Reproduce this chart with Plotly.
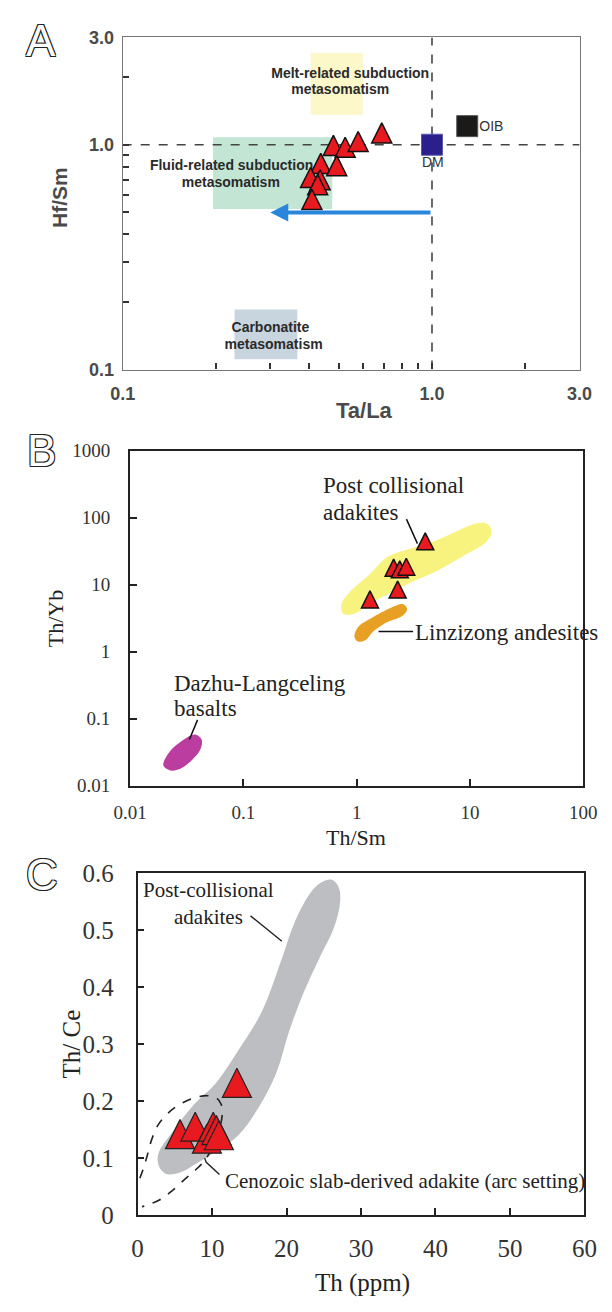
import math
import plotly.graph_objects as go

W, H = 612, 1312

# ---------------- Panel A : Hf/Sm vs Ta/La ----------------
a_ta_la = [0.480, 0.524, 0.577, 0.688, 0.437, 0.492, 0.405, 0.435, 0.427, 0.409]
a_hf_sm = [1.10, 1.08, 1.145, 1.25, 0.915, 0.894, 0.792, 0.774, 0.736, 0.633]
dm_ta_la = [1.0]
dm_hf_sm = [1.0]
oib_ta_la = [1.30]
oib_hf_sm = [1.21]
melt_box_x = [0.405, 0.598]
melt_box_y = [1.358, 2.56]
fluid_box_x = [0.196, 0.476]
fluid_box_y = [0.518, 1.081]
carb_box_x = [0.230, 0.367]
carb_box_y = [0.111, 0.185]
ref_ta_la = 1.0
ref_hf_sm = 1.0
arrow_from = [1.0, 0.5]
arrow_to = [0.30, 0.5]
a_tickvals = [0.1, 0.2, 0.3, 0.4, 0.5, 0.6, 0.7, 0.8, 0.9, 1.0, 2.0, 3.0]
a_ticktext = ["0.1", "", "", "", "", "", "", "", "", "1.0", "", "3.0"]

# ---------------- Panel B : Th/Yb vs Th/Sm ----------------
b_th_sm = [4.03, 2.12, 2.40, 2.74, 2.30, 1.31]
b_th_yb = [59.7, 24.1, 22.8, 24.9, 11.4, 8.1]
post_adakite_x = [0.762, 0.735, 0.887, 1.29, 1.88, 2.96, 4.66, 7.31, 11.5, 14.4, 15.5, 13.9, 8.5, 5.0, 2.96, 1.88, 1.29, 0.955]
post_adakite_y = [3.68, 5.15, 8.07, 14.1, 26.2, 34.6, 43.4, 60.7, 83, 80.4, 60.7, 43.4, 26.2, 15.8, 10.7, 7.2, 5.15, 3.68]
linzizong_x = [0.955, 1.03, 1.39, 2.03, 2.55, 2.79, 2.55, 1.75, 1.39, 1.2, 1.03]
linzizong_y = [1.68, 2.35, 3.29, 4.6, 5.15, 4.35, 3.47, 2.63, 1.99, 1.50, 1.42]
dazhu_x = [0.0197, 0.0221, 0.0299, 0.0374, 0.0428, 0.0418, 0.0347, 0.0277, 0.0229]
dazhu_y = [0.020, 0.0314, 0.049, 0.058, 0.049, 0.035, 0.0237, 0.0179, 0.0169]
b_leader_post_x = [2.75, 3.44]
b_leader_post_y = [95.7, 41.2]
b_leader_lin_x = [1.56, 3.15]
b_leader_lin_y = [2.0, 2.0]
b_leader_dazhu_x = [0.0394, 0.0334]
b_leader_dazhu_y = [0.0964, 0.0491]
b_xtickvals = [0.01, 0.1, 1, 10, 100]
b_xticktext = ["0.01", "0.1", "1", "10", "100"]
b_ytickvals = [0.01, 0.1, 1, 10, 100, 1000]
b_yticktext = ["0.01", "0.1", "1", "10", "100", "1000"]

# ---------------- Panel C : Th/Ce vs Th ----------------
c_th = [5.70, 7.74, 9.31, 10.16, 10.58, 10.92, 13.34]
c_th_ce = [0.167, 0.180, 0.159, 0.180, 0.174, 0.165, 0.257]
c_post_x = [2.7, 3.2, 4.0, 5.9, 8.0, 10.6, 13.5, 16.1, 18.6, 20.3, 22.3, 24.4, 26.4, 27.2, 27.0, 26.1, 24.9, 23.5, 21.2, 19.2, 16.7, 13.5, 10.5, 7.6, 5.0, 2.9]
c_post_y = [0.094, 0.078, 0.071, 0.075, 0.091, 0.111, 0.139, 0.185, 0.248, 0.32, 0.39, 0.45, 0.505, 0.55, 0.575, 0.588, 0.585, 0.57, 0.517, 0.443, 0.357, 0.288, 0.231, 0.194, 0.151, 0.111]
c_ceno_x = [0.30, 0.80, 1.32, 1.87, 2.72, 3.99, 5.70, 7.61, 9.31, 10.58, 11.22, 11.35, 11.0, 10.16, 9.09, 7.82, 6.33, 4.63, 2.93, 1.23, 0.6]
c_ceno_y = [0.064, 0.082, 0.105, 0.131, 0.157, 0.177, 0.194, 0.205, 0.209, 0.205, 0.194, 0.174, 0.151, 0.122, 0.0965, 0.079, 0.062, 0.042, 0.026, 0.0166, 0.014]
c_leader_post_x = [15.17, 19.38]
c_leader_post_y = [0.5246, 0.480]
c_leader_ceno_x = [9.01, 9.22, 11.0]
c_leader_ceno_y = [0.0994, 0.092, 0.0708]
c_xtickvals = [0, 10, 20, 30, 40, 50, 60]
c_ytickvals = [0, 0.1, 0.2, 0.3, 0.4, 0.5, 0.6]
c_yticktext = ["0", "0.1", "0.2", "0.3", "0.4", "0.5", "0.6"]

SANS = "Liberation Sans, Arial, sans-serif"
SERIF = "Liberation Serif, Times New Roman, serif"
RED = "#e8191f"


def px(x):
    return x / W


def py(y):
    return 1 - y / H


def rect(xs, ys):
    return ([xs[0], xs[1], xs[1], xs[0], xs[0]],
            [ys[0], ys[0], ys[1], ys[1], ys[0]])


fig = go.Figure()

# ---- Panel A traces ----
for bx, by, col in [(melt_box_x, melt_box_y, "#fcf8c9"),
                    (fluid_box_x, fluid_box_y, "#c2e5d4"),
                    (carb_box_x, carb_box_y, "#c8d5df")]:
    rx, ry = rect(bx, by)
    fig.add_trace(go.Scatter(x=rx, y=ry, mode="lines", fill="toself",
                             fillcolor=col, line=dict(width=0),
                             hoverinfo="skip", xaxis="x", yaxis="y"))

fig.add_trace(go.Scatter(x=[0.1, 3.0], y=[ref_hf_sm, ref_hf_sm], mode="lines",
                         line=dict(color="#444", width=1.6, dash="dash"),
                         xaxis="x", yaxis="y"))
fig.add_trace(go.Scatter(x=[ref_ta_la, ref_ta_la], y=[0.1, 3.0], mode="lines",
                         line=dict(color="#444", width=1.6, dash="dash"),
                         xaxis="x", yaxis="y"))

a_labels = [
    ("Melt-related subduction", 0.544, 2.058),
    ("metasomatism", 0.505, 1.740),
    ("Fluid-related subduction", 0.225, 0.80),
    ("metasomatism", 0.2237, 0.673),
    ("Carbonatite", 0.3004, 0.1524),
    ("metasomatism", 0.3076, 0.1285),
]
fig.add_trace(go.Scatter(
    x=[t[1] for t in a_labels], y=[t[2] for t in a_labels],
    text=[t[0] for t in a_labels], mode="text", textposition="middle center",
    textfont=dict(family=SANS, size=14, color="#2a2a2a", weight="bold"),
    xaxis="x", yaxis="y", hoverinfo="skip"))

fig.add_trace(go.Scatter(x=dm_ta_la, y=dm_hf_sm, mode="markers",
                         marker=dict(symbol="square", size=21, color="#2b1f8e",
                                     line=dict(color="#5a5aa8", width=1)),
                         xaxis="x", yaxis="y"))
fig.add_trace(go.Scatter(x=oib_ta_la, y=oib_hf_sm, mode="markers",
                         marker=dict(symbol="square", size=21, color="#1c1a18",
                                     line=dict(color="#555", width=1)),
                         xaxis="x", yaxis="y"))
fig.add_trace(go.Scatter(x=[1.006, 1.422], y=[0.822, 1.192], text=["DM", "OIB"],
                         mode="text", textposition=["middle center", "middle right"],
                         textfont=dict(family=SANS, size=14, color="#333"),
                         xaxis="x", yaxis="y", hoverinfo="skip"))

fig.add_trace(go.Scatter(x=a_ta_la, y=a_hf_sm, mode="markers",
                         marker=dict(symbol="arrow-up", size=20, color=RED,
                                     line=dict(color="#111", width=1.5)),
                         xaxis="x", yaxis="y"))

# ---- Panel B traces ----
for bx, by, col in [(post_adakite_x, post_adakite_y, "#f7f37e"),
                    (linzizong_x, linzizong_y, "#e8a024"),
                    (dazhu_x, dazhu_y, "#bb3d9f")]:
    fig.add_trace(go.Scatter(x=bx + [bx[0]], y=by + [by[0]], mode="lines",
                             fill="toself", fillcolor=col,
                             line=dict(width=0, shape="spline", smoothing=1.0),
                             hoverinfo="skip", xaxis="x2", yaxis="y2"))
for lx, ly in [(b_leader_post_x, b_leader_post_y),
               (b_leader_lin_x, b_leader_lin_y),
               (b_leader_dazhu_x, b_leader_dazhu_y)]:
    fig.add_trace(go.Scatter(x=lx, y=ly, mode="lines",
                             line=dict(color="#111", width=1.5),
                             xaxis="x2", yaxis="y2"))
fig.add_trace(go.Scatter(x=b_th_sm, y=b_th_yb, mode="markers",
                         marker=dict(symbol="arrow-up", size=17, color=RED,
                                     line=dict(color="#111", width=1.5)),
                         xaxis="x2", yaxis="y2"))

# ---- Panel C traces ----
fig.add_trace(go.Scatter(x=c_post_x + [c_post_x[0]], y=c_post_y + [c_post_y[0]],
                         mode="lines", fill="toself", fillcolor="#bdbec2",
                         line=dict(width=0, shape="spline", smoothing=1.0),
                         hoverinfo="skip", xaxis="x3", yaxis="y3"))
fig.add_trace(go.Scatter(x=c_ceno_x, y=c_ceno_y, mode="lines",
                         line=dict(color="#222", width=1.6, dash="dash",
                                   shape="spline"),
                         xaxis="x3", yaxis="y3"))
for lx, ly in [(c_leader_post_x, c_leader_post_y),
               (c_leader_ceno_x, c_leader_ceno_y)]:
    fig.add_trace(go.Scatter(x=lx, y=ly, mode="lines",
                             line=dict(color="#222", width=1.4),
                             xaxis="x3", yaxis="y3"))
fig.add_trace(go.Scatter(x=c_th, y=c_th_ce, mode="markers",
                         marker=dict(symbol="arrow-up", size=29, color=RED,
                                     line=dict(color="#222", width=1.2)),
                         xaxis="x3", yaxis="y3"))

# ---- Axes ----
A_AX = dict(showgrid=False, zeroline=False, showline=True, mirror=True,
            linecolor="#777", linewidth=1.2, ticks="inside", ticklen=6,
            tickwidth=1.6, tickcolor="#333",
            tickfont=dict(family=SANS, size=18, color="#4a4a4a", weight="bold"))
fig.update_layout(
    xaxis=dict(A_AX, type="log", range=[-1, math.log10(3)],
               domain=[px(111.3), px(592.6)], anchor="y",
               tickvals=a_tickvals, ticktext=a_ticktext, ticklabelstandoff=8),
    yaxis=dict(A_AX, type="log", range=[-1, math.log10(3)],
               domain=[py(364), py(25)], anchor="x",
               tickvals=a_tickvals, ticktext=a_ticktext, ticklabelstandoff=4),
)
B_AX = dict(showgrid=False, zeroline=False, showline=True, mirror=True,
            linecolor="#222", linewidth=1.8, ticks="inside", ticklen=7,
            tickwidth=1.6, tickcolor="#222",
            tickfont=dict(family=SERIF, size=19, color="#333"))
fig.update_layout(
    xaxis2=dict(B_AX, type="log", range=[-2, 2],
                domain=[px(119.1), px(596.5)], anchor="y2",
                tickvals=b_xtickvals, ticktext=b_xticktext, ticklabelstandoff=9),
    yaxis2=dict(B_AX, type="log", range=[-2, 3],
                domain=[py(789), py(447)], anchor="x2",
                tickvals=b_ytickvals, ticktext=b_yticktext, ticklabelstandoff=14),
)
C_AX = dict(showgrid=False, zeroline=False, showline=True, mirror=True,
            linecolor="#222", linewidth=1.8, ticks="inside", ticklen=7,
            tickwidth=1.6, tickcolor="#222",
            tickfont=dict(family=SERIF, size=25, color="#333"))
fig.update_layout(
    xaxis3=dict(C_AX, range=[0, 60], domain=[px(127), px(597.7)], anchor="y3",
                tickvals=c_xtickvals, ticklabelstandoff=10),
    yaxis3=dict(C_AX, range=[0, 0.6], domain=[py(1227), py(878)], anchor="x3",
                tickvals=c_ytickvals, ticktext=c_yticktext, ticklabelstandoff=17),
)

# ---- Annotations ----
ann = []
# arrow in panel A (log axes need log10 coordinates for annotations)
ann.append(dict(x=math.log10(arrow_to[0]), y=math.log10(arrow_to[1]),
                ax=math.log10(arrow_from[0]), ay=math.log10(arrow_from[1]),
                xref="x", yref="y", axref="x", ayref="y", text="",
                showarrow=True, arrowhead=2, arrowsize=0.9, arrowwidth=4,
                arrowcolor="#2a86da"))

outline = "-1px -1px 0 #222, 1px -1px 0 #222, -1px 1px 0 #222, 1px 1px 0 #222"
for letter, x, y in [("A", 25, 28), ("B", 26, 447), ("C", 26, 880)]:
    ann.append(dict(x=px(x), y=py(y), xref="paper", yref="paper", text=letter,
                    showarrow=False, xanchor="center", yanchor="middle",
                    font=dict(family=SANS, size=44, color="white", shadow=outline)))


def label(text, x, y, size, family, xanchor="center", angle=0, color="#222",
          weight="normal"):
    ann.append(dict(x=px(x), y=py(y), xref="paper", yref="paper", text=text,
                    showarrow=False, xanchor=xanchor, yanchor="middle",
                    textangle=angle,
                    font=dict(family=family, size=size, color=color,
                              weight=weight)))


label("Ta/La", 366, 406, 22, SANS, color="#4a4a4a", weight="bold")
label("Hf/Sm", 44, 188, 21, SANS, angle=-90, color="#4a4a4a", weight="bold")

label("Th/Sm", 357, 842, 22, SERIF)
label("Th/Yb", 40, 618, 22, SERIF, angle=-90)
label("Post collisional", 320, 482, 23, SERIF, xanchor="left")
label("adakites", 320, 510, 23, SERIF, xanchor="left")
label("Linzizong andesites", 417.5, 633, 23, SERIF, xanchor="left")
label("Dazhu-Langceling", 163, 685, 23, SERIF, xanchor="left")
label("basalts", 163, 710, 23, SERIF, xanchor="left")

label("Th (ppm)", 364, 1297, 25, SERIF)
label("Th/ Ce", 57, 1053, 25, SERIF, angle=-90)
label("Post-collisional", 202, 895, 21, SERIF)
label("adakites", 202, 923, 21, SERIF)
label("Cenozoic slab-derived adakite (arc setting)", 216.7, 1193, 21, SERIF,
      xanchor="left")

fig.update_layout(
    width=W, height=H, margin=dict(l=0, r=0, t=0, b=0),
    paper_bgcolor="white", plot_bgcolor="white", showlegend=False,
    annotations=ann,
)

fig.write_html("out.html")
